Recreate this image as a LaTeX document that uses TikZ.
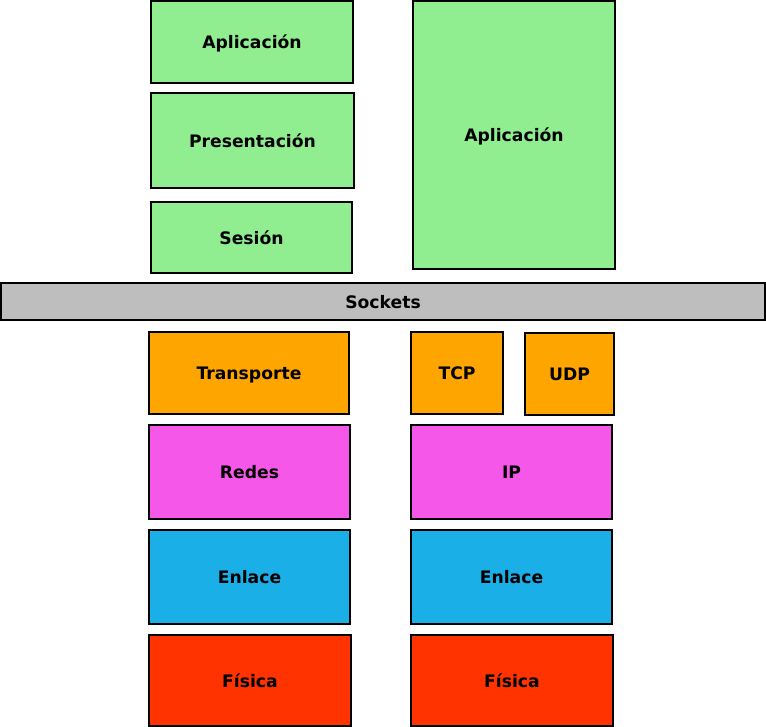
\documentclass[tikz,border=0pt]{standalone}
\usepackage{fontspec}
\setmainfont{DejaVu Sans}
\definecolor{cgreen}{HTML}{90EE90}
\definecolor{cgray}{HTML}{BEBEBE}
\definecolor{corange}{HTML}{FFA500}
\definecolor{cmag}{HTML}{F557E8}
\definecolor{cblue}{HTML}{1AAFE6}
\definecolor{cred}{HTML}{FF3300}
\tikzset{
  layer/.style={draw=black, line width=1.6pt},
  lbl/.style={font=\fontsize{17.2}{19}\selectfont\bfseries, text=black,
    text height=15.5pt, text depth=1.7pt, inner sep=0pt}
}
\begin{document}
\begin{tikzpicture}[x=1pt,y=-1pt]
\useasboundingbox (0,0) rectangle (766,727);
\path[layer, fill=cgreen] (151,1) rectangle (353,83) node[lbl, midway] (apl1) {Aplicación};
\path[layer, fill=cgreen] (151,93) rectangle (354,188) node[lbl, midway] (pres) {Presentación};
\path[layer, fill=cgreen] (151,202) rectangle (352,273) node[lbl, midway] (ses) {Sesión};
\path[layer, fill=cgreen] (413,1) rectangle (615,269) node[lbl, midway] (apl2) {Aplicación};
\path[layer, fill=cgray] (1,283) rectangle (765,320) node[lbl, midway] (sock) {Sockets};
\path[layer, fill=corange] (149,332) rectangle (349,414) node[lbl, midway] (trans) {Transporte};
\path[layer, fill=corange] (411,332) rectangle (503,414) node[lbl, midway] (tcp) {TCP};
\path[layer, fill=corange] (525,333) rectangle (614,415) node[lbl, midway] (udp) {UDP};
\path[layer, fill=cmag] (149,425) rectangle (350,519) node[lbl, midway] (redes) {Redes};
\path[layer, fill=cmag] (411,425) rectangle (612,519) node[lbl, midway] (ip) {IP};
\path[layer, fill=cblue] (149,530) rectangle (350,624) node[lbl, midway] (enl1) {Enlace};
\path[layer, fill=cblue] (411,530) rectangle (612,624) node[lbl, midway] (enl2) {Enlace};
\path[layer, fill=cred] (149,635) rectangle (351,726) node[lbl, midway] (fis1) {Física};
\path[layer, fill=cred] (411,635) rectangle (613,726) node[lbl, midway] (fis2) {Física};
\end{tikzpicture}
\end{document}
